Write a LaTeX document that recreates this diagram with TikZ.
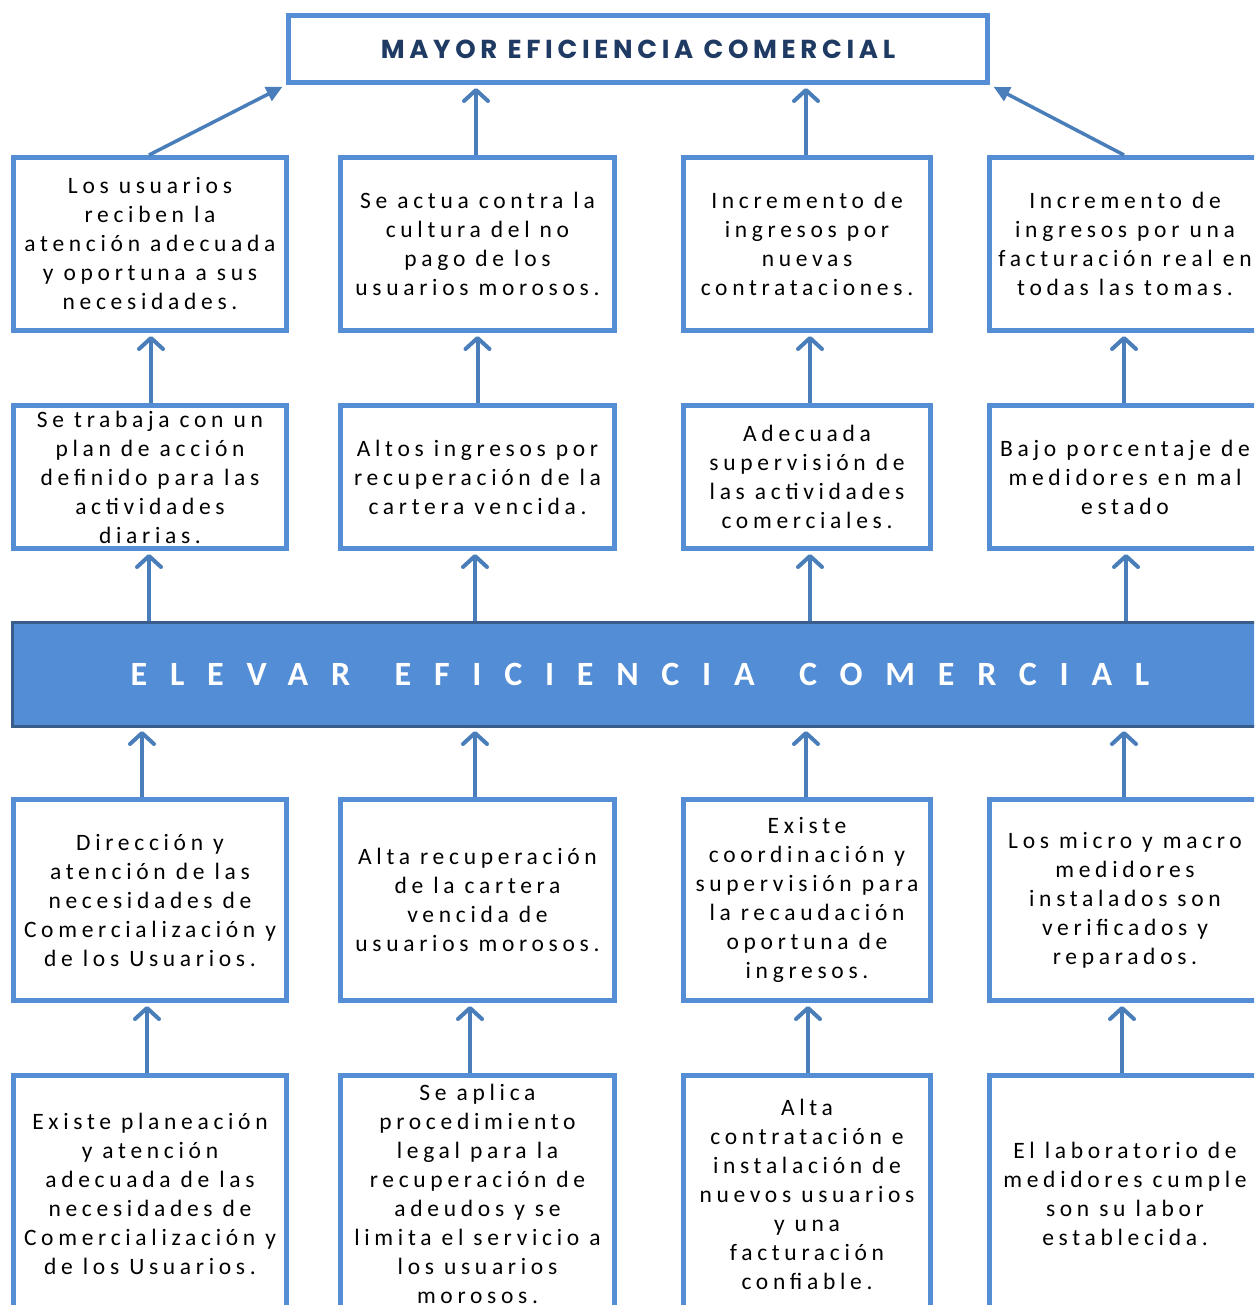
\documentclass[tikz,border=0pt]{standalone}
\usepackage{fontspec}
\setmainfont{Carlito}
\newfontfamily\bodyf{Carlito}[LetterSpace=20]
\newfontfamily\banf{Carlito}[LetterSpace=67]
\newfontfamily\titf{Poppins}[LetterSpace=18]
\usetikzlibrary{arrows.meta}
\definecolor{boxblue}{HTML}{558ED5}
\definecolor{arrblue}{HTML}{4A7EBB}
\definecolor{banfill}{HTML}{538DD5}
\definecolor{bandraw}{HTML}{385D8A}
\definecolor{titcol}{HTML}{1F3B64}
\tikzset{
  boxn/.style={draw=boxblue, line width=5pt, fill=white, inner sep=0pt, align=center,
    font=\bodyf\fontsize{23.5}{29}\selectfont},
  arr/.style={draw=arrblue, line width=4pt, shorten >=3pt,
    -{Straight Barb[length=11pt,width=24pt,round]}},
  arrf/.style={draw=arrblue, line width=3.5pt, shorten >=4pt,
    -{Triangle[length=16pt,width=15pt]}},
}
\newcommand{\uparr}[3]{\draw[arr] ([xshift=#3pt]#1.north) -- ([xshift=#3pt]#1.north |- #2.south);}
\newcommand{\downarr}[3]{\draw[arr] ([xshift=#3pt]#2.south |- #1.north) -- ([xshift=#3pt]#2.south);}
\begin{document}
\begin{tikzpicture}[x=1pt,y=-1pt]
\clip (0,0) rectangle (1254,1305);
\fill[white] (0,0) rectangle (1254,1305);
% top
\node[draw=boxblue, line width=5pt, minimum width=699pt, minimum height=67pt, inner sep=0pt,
  font=\titf\bfseries\fontsize{26}{30}\selectfont, text=titcol] (top) at (638,49) {MAYOR EFICIENCIA COMERCIAL};
% banner
\node[draw=bandraw, fill=banfill, line width=3pt, minimum width=1255pt, minimum height=104pt, inner sep=0pt,
  font=\banf\bfseries\fontsize{34}{40}\selectfont, text=white] (ban) at (640,674.5) {ELEVAR\hspace{14pt} EFICIENCIA\hspace{14pt} COMERCIAL};
% row 1
\node[boxn, minimum width=273pt, minimum height=173pt] (b11) at (150,244) {Los usuarios\\reciben la\\atención adecuada\\y oportuna a sus\\necesidades.};
\node[boxn, minimum width=274pt, minimum height=173pt] (b12) at (477.5,244) {Se actua contra la\\cultura del no\\pago de los\\usuarios morosos.};
\node[boxn, minimum width=247pt, minimum height=173pt] (b13) at (807,244) {Incremento de\\ingresos por\\nuevas\\contrataciones.};
\node[boxn, minimum width=271pt, minimum height=173pt] (b14) at (1125,244) {Incremento de\\ingresos por una\\facturación real en\\todas las tomas.};
% row 2
\node[boxn, minimum width=273pt, minimum height=143pt] (b21) at (150,477) {Se trabaja con un\\plan de acción\\definido para las\\actividades\\diarias.};
\node[boxn, minimum width=274pt, minimum height=143pt] (b22) at (477.5,477) {Altos ingresos por\\recuperación de la\\cartera vencida.};
\node[boxn, minimum width=247pt, minimum height=143pt] (b23) at (807,477) {Adecuada\\supervisión de\\las actividades\\comerciales.};
\node[boxn, minimum width=271pt, minimum height=143pt] (b24) at (1125,477) {Bajo porcentaje de\\medidores en mal\\estado};
% row 3
\node[boxn, minimum width=273pt, minimum height=201pt] (b31) at (150,900) {Dirección y\\atención de las\\necesidades de\\Comercialización y\\de los Usuarios.};
\node[boxn, minimum width=274pt, minimum height=201pt] (b32) at (477.5,900) {Alta recuperación\\de la cartera\\vencida de\\usuarios morosos.};
\node[boxn, minimum width=247pt, minimum height=201pt] (b33) at (807,900) {Existe\\coordinación y\\supervisión para\\la recaudación\\oportuna de\\ingresos.};
\node[boxn, minimum width=271pt, minimum height=201pt] (b34) at (1125,900) {Los micro y macro\\medidores\\instalados son\\verificados y\\reparados.};
% row 4
\node[boxn, minimum width=273pt, minimum height=237pt] (b41) at (150,1194) {Existe planeación\\y atención\\adecuada de las\\necesidades de\\Comercialización y\\de los Usuarios.};
\node[boxn, minimum width=274pt, minimum height=237pt] (b42) at (477.5,1194) {Se aplica\\procedimiento\\legal para la\\recuperación de\\adeudos y se\\limita el servicio a\\los usuarios\\morosos.};
\node[boxn, minimum width=247pt, minimum height=237pt] (b43) at (807,1194) {Alta\\contratación e\\instalación de\\nuevos usuarios\\y una\\facturación\\confiable.};
\node[boxn, minimum width=271pt, minimum height=237pt] (b44) at (1125,1194) {El laboratorio de\\medidores cumple\\son su labor\\establecida.};
% arrows row1 -> top
\draw[arrf] ([xshift=-1pt]b11.north) -- (top.south west);
\uparr{b12}{top}{-1.5}
\uparr{b13}{top}{-1}
\draw[arrf] ([xshift=-1pt]b14.north) -- (top.south east);
% row2 -> row1
\uparr{b21}{b11}{1}
\uparr{b22}{b12}{0}
\uparr{b23}{b13}{3}
\uparr{b24}{b14}{-1}
% banner -> row2
\downarr{ban}{b21}{-1}
\downarr{ban}{b22}{-2.5}
\downarr{ban}{b23}{3}
\downarr{ban}{b24}{1}
% row3 -> banner
\uparr{b31}{ban}{-8}
\uparr{b32}{ban}{-2.5}
\uparr{b33}{ban}{-1}
\uparr{b34}{ban}{-1}
% row4 -> row3
\uparr{b41}{b31}{-3}
\uparr{b42}{b32}{-7.5}
\uparr{b43}{b33}{1}
\uparr{b44}{b34}{-3}
\end{tikzpicture}
\end{document}
